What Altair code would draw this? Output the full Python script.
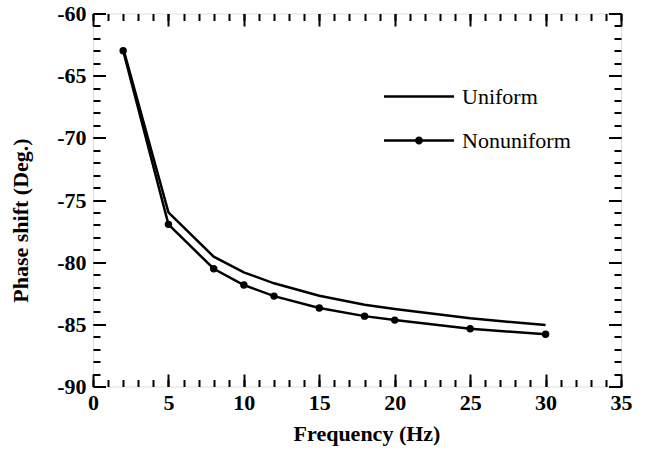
import altair as alt
import pandas as pd

# ---- data ----
freq = [2, 5, 8, 10, 12, 15, 18, 20, 25, 30]
uniform = [-62.8, -76.0, -79.56, -80.82, -81.7, -82.7, -83.43, -83.77, -84.52, -85.06]
nonuniform = [-63.0, -76.96, -80.53, -81.84, -82.73, -83.69, -84.34, -84.66, -85.36, -85.8]
series_names = ["Uniform", "Nonuniform"]

x_major = [0, 5, 10, 15, 20, 25, 30, 35]
x_minor = list(range(0, 36))
y_major = [-90, -85, -80, -75, -70, -65, -60]
y_minor = list(range(-90, -59))

rows = []
for f, u in zip(freq, uniform):
    rows.append({"freq": f, "phase": u, "series": "Uniform"})
for f, n in zip(freq, nonuniform):
    rows.append({"freq": f, "phase": n, "series": "Nonuniform"})
df = pd.DataFrame(rows)

W, H = 528, 373
FONT = "'Liberation Serif', 'Times New Roman', 'DejaVu Serif', serif"

xs = alt.Scale(domain=[0, 35], nice=False, zero=False)
ys = alt.Scale(domain=[-90, -60], nice=False, zero=False)

base = alt.Chart(df)

line = base.mark_line(color="black", strokeWidth=2.5).encode(
    x=alt.X("freq:Q", scale=xs, axis=alt.Axis(
        orient="bottom", values=x_major, ticks=False, domain=False, grid=False,
        labelExpr="'' + datum.value", labelFont=FONT, labelFontWeight="bold",
        labelFontSize=22, labelPadding=6, labelColor="black", labelFlush=False,
        title="Frequency (Hz)", titleFont=FONT, titleFontWeight="bold",
        titleFontSize=22, titleColor="black", titleBaseline="alphabetic",
        titleY=53.5, titleX=273.5)),
    y=alt.Y("phase:Q", scale=ys, axis=alt.Axis(
        orient="left", values=y_major, ticks=False, domain=False, grid=False,
        labelExpr="'' + datum.value", labelFont=FONT, labelFontWeight="bold",
        labelFontSize=22, labelPadding=7, labelColor="black", labelFlush=False,
        title="Phase shift (Deg.)", titleFont=FONT, titleFontWeight="bold",
        titleFontSize=22, titleColor="black", titleBaseline="alphabetic",
        titleX=-66, titleY=206.5)),
    detail="series:N",
)

points = base.transform_filter(alt.datum.series == "Nonuniform").mark_point(
    filled=True, color="black", size=55, opacity=1
).encode(
    x=alt.X("freq:Q", scale=xs, axis=None),
    y=alt.Y("phase:Q", scale=ys, axis=None),
)

p_uniform = "M-1,-0.12H6V0.12H-1Z"
p_nonuniform = "M-1,-0.12H6V0.12H-1Z M2.1,0A0.4,0.4 0 1,1 2.9,0A0.4,0.4 0 1,1 2.1,0Z"

legend_layer = base.transform_filter(alt.datum.freq < -1000).mark_point(
    filled=True, color="black", size=400, opacity=1
).encode(
    x=alt.X("freq:Q", scale=xs, axis=None),
    y=alt.Y("phase:Q", scale=ys, axis=None),
    shape=alt.Shape("series:N", scale=alt.Scale(domain=series_names,
                                               range=[p_uniform, p_nonuniform]),
                    legend=alt.Legend(
                        title=None, orient="none", legendX=290, legendY=72,
                        padding=0, symbolSize=400, symbolFillColor="black",
                        symbolStrokeWidth=0, symbolOpacity=1,
                        labelFont=FONT, labelFontSize=22, labelColor="black",
                        labelOffset=57, rowPadding=22, labelBaseline="middle")),
)


def tick_layer(xorient, xoff, yorient, yoff, xvals, yvals, size):
    return base.mark_point(opacity=0).encode(
        x=alt.X("freq:Q", scale=xs, axis=alt.Axis(
            orient=xorient, offset=xoff, values=xvals, labels=False, title=None,
            domain=False, grid=False, ticks=True, tickSize=size, tickWidth=2,
            tickColor="black")),
        y=alt.Y("phase:Q", scale=ys, axis=alt.Axis(
            orient=yorient, offset=yoff, values=yvals, labels=False, title=None,
            domain=False, grid=False, ticks=True, tickSize=size, tickWidth=2,
            tickColor="black")),
    )


t1 = tick_layer("top", -H, "right", -W, x_major, y_major, 12.5)
t2 = tick_layer("bottom", -H, "left", -W, x_major, y_major, 12.5)
t3 = tick_layer("top", -H, "right", -W, x_minor, y_minor, 7)
t4 = tick_layer("bottom", -H, "left", -W, x_minor, y_minor, 7)

chart = alt.layer(line, points, legend_layer, t1, t2, t3, t4).resolve_axis(
    x="independent", y="independent"
).properties(
    width=W, height=H,
    autosize=alt.AutoSizeParams(type="none"),
    padding={"left": 93, "top": 13.5, "right": 32, "bottom": 63.5},
).configure_view(
    stroke="black", strokeWidth=2
).configure(background="white", font=FONT)

chart.save("out.html", embed_options={"renderer": "svg", "actions": False})
